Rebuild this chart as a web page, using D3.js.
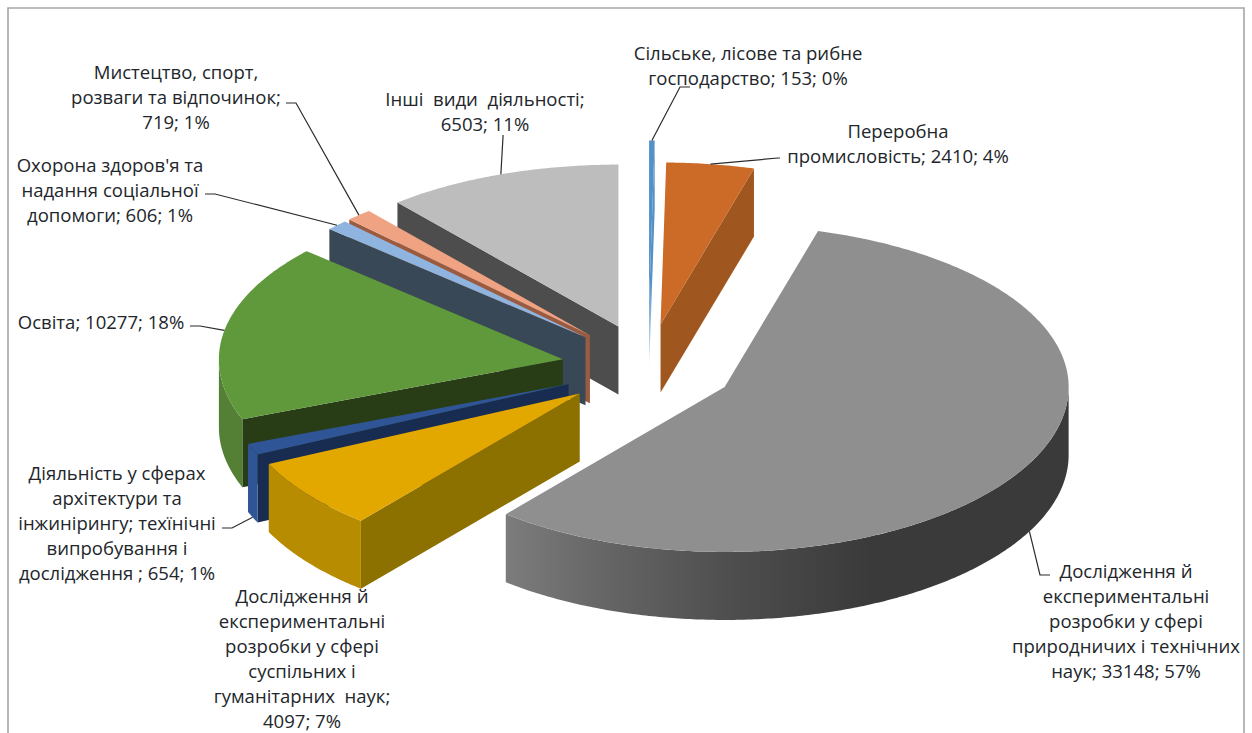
<!DOCTYPE html>
<html lang="uk">
<head>
<meta charset="utf-8">
<title>Виконання наукових досліджень за видами діяльності</title>
<script src="https://cdn.jsdelivr.net/npm/d3@7/dist/d3.min.js"></script>
<style>
  html, body { margin: 0; padding: 0; background: #fff; }
  svg { display: block; }
  text { font-family: "Open Sans", sans-serif; font-size: 17.5px; fill: #22262b; text-anchor: middle; }
</style>
</head>
<body>
<svg id="chart" width="1252" height="733"></svg>
<script>
// Activity categories, clockwise from twelve o'clock
const categories = [
  "Сільське, лісове та рибне господарство",
  "Переробна промисловість",
  "Дослідження й експериментальні розробки у сфері природничих і технічних наук",
  "Дослідження й експериментальні розробки у сфері суспільних і гуманітарних наук",
  "Діяльність у сферах архітектури та інжинірингу; техїнічні випробування і дослідження",
  "Освіта",
  "Охорона здоров'я та надання соціальної допомоги",
  "Мистецтво, спорт, розваги та відпочинок",
  "Інші види діяльності"
];
const values = [153, 2410, 33148, 4097, 654, 10277, 606, 719, 6503];
const percents = [0, 4, 57, 7, 1, 18, 1, 1, 11];

// Wrapped label text for each category
const labelLines = [
  ["Сільське, лісове та рибне", "господарство; 153; 0%"],
  ["Переробна", "промисловість; 2410; 4%"],
  ["Дослідження й", "експериментальні", "розробки у сфері", "природничих і технічних", "наук; 33148; 57%"],
  ["Дослідження й", "експериментальні", "розробки у сфері", "суспільних і", "гуманітарних  наук;", "4097; 7%"],
  ["Діяльність у сферах", "архітектури та", "інжинірингу; техїнічні", "випробування і", "дослідження ; 654; 1%"],
  ["Освіта; 10277; 18%"],
  ["Охорона здоров'я та", "надання соціальної", "допомоги; 606; 1%"],
  ["Мистецтво, спорт,", "розваги та відпочинок;", "719; 1%"],
  ["Інші  види  діяльності;", "6503; 11%"]
];

// Label block anchors: centre x, first-line middle y
const labelX = [748, 898, 1126, 302, 117, 101, 110, 176, 485];
const labelY = [53, 131, 571, 596, 473, 322, 165, 72, 99];
const lineStep = 25;
const textStretch = 1.06;

// Slice colours: top face, cut face, rim
const topColors = ["#5491c8", "#cc6a27", "#8f8f8f", "#e2a800", "#2f5597", "#5f993b", "#8fb4df", "#efa383", "#bdbdbd"];
const cutColors = ["#5491c8", "#a0561f", "#555555", "#8c7000", "#182c52", "#283d15", "#394856", "#9a5b40", "#4d4d4d"];
const rimColors = ["#5491c8", "#a0561f", "url(#rimGrey)", "#b88c00", "#2f5597", "#538035", "#394856", "#9a5b40", "#4d4d4d"];

// How far each slice is pulled from the centre, as a multiple of the common offset
const explode = [1.5, 1, 1, 1, 1, 1, 1, 1, 1];

// Back-to-front paint order
const paintOrder = [8, 7, 6, 0, 1, 5, 4, 3, 2];

// Leader-line elbows: label end, then the bend; null where no leader is drawn
const leaderElbows = [
  [[690, 87], [680, 87]],
  [[780, 158], [778, 158]],
  [[1050, 575], [1040, 575]],
  null,
  [[222, 528], [232, 528]],
  [[190, 326], [200, 326]],
  [[205, 194], [215, 194]],
  [[286, 103], [296, 103]],
  [[503, 135], [503, 137]]
];

const TAU = 2 * Math.PI;
const centre = { x: 648, y: 367 };
const radius = { x: 344, back: 162, front: 165 };
const offset = { x: 86.5, y: 43 };
const depth = 68;

const svg = d3.select("#chart");

// Chart frame, open along the bottom edge
svg.append("path")
  .attr("d", d3.line()([[8, 733], [8, 8], [1244, 8], [1244, 733]]))
  .attr("fill", "none")
  .attr("stroke", "#a6a6a6")
  .attr("stroke-width", 1.6);

const defs = svg.append("defs");
const rimGrey = defs.append("linearGradient")
  .attr("id", "rimGrey")
  .attr("gradientUnits", "userSpaceOnUse")
  .attr("x1", 505).attr("x2", 1068).attr("y1", 0).attr("y2", 0);
[[0, "#7c7c7c"], [0.2, "#636363"], [0.4, "#4e4e4e"], [0.65, "#3a3a3a"], [1, "#3a3a3a"]]
  .forEach(([o, c]) => rimGrey.append("stop").attr("offset", o).attr("stop-color", c));
const sliverFade = defs.append("linearGradient")
  .attr("id", "sliverFade")
  .attr("gradientUnits", "userSpaceOnUse")
  .attr("x1", 0).attr("x2", 0).attr("y1", 141).attr("y2", 372);
[[0, 1], [0.6, 1], [0.85, 0.5], [1, 0]]
  .forEach(([o, a]) => sliverFade.append("stop").attr("offset", o).attr("stop-color", "#5491c8").attr("stop-opacity", a));

const arcs = d3.pie().sort(null).startAngle(0).endAngle(TAU)(values);

// Projection of the tilted pie plane onto the page
const sx = d3.scaleLinear().domain([-1, 1]).range([centre.x - radius.x, centre.x + radius.x]);
const sy = d3.scaleLinear().domain([-1, 0, 1]).range([centre.y - radius.back, centre.y, centre.y + radius.front]);

function apex(i) {
  const mid = (arcs[i].startAngle + arcs[i].endAngle) / 2;
  return [
    Math.sin(mid) * offset.x * explode[i],
    -Math.cos(mid) * offset.y * explode[i]
  ];
}
function rimPoint(i, a, dz = 0) {
  const [dx, dy] = apex(i);
  return [sx(Math.sin(a)) + dx, sy(-Math.cos(a)) + dy + dz];
}
function apexPoint(i, dz = 0) {
  const [dx, dy] = apex(i);
  return [centre.x + dx, centre.y + dy + dz];
}
function sweep(a0, a1) {
  const n = Math.max(2, Math.ceil((a1 - a0) / 0.01));
  return d3.range(n + 1).map(k => a0 + (a1 - a0) * k / n);
}
const line = d3.line();

const slices = svg.append("g");
paintOrder.forEach(i => {
  const { startAngle: a0, endAngle: a1 } = arcs[i];
  const g = slices.append("g");

  // Cut faces that turn towards the viewer
  if (Math.sin(a0) < -1e-6) {
    g.append("path")
      .attr("d", line([apexPoint(i), rimPoint(i, a0), rimPoint(i, a0, depth), apexPoint(i, depth)]) + "Z")
      .attr("fill", cutColors[i]);
  }
  if (Math.sin(a1) > 1e-6) {
    g.append("path")
      .attr("d", line([apexPoint(i), rimPoint(i, a1), rimPoint(i, a1, depth), apexPoint(i, depth)]) + "Z")
      .attr("fill", i === 0 ? "url(#sliverFade)" : cutColors[i]);
  }

  // Outer rim over the front half of the pie
  const r0 = Math.max(a0, Math.PI / 2), r1 = Math.min(a1, 3 * Math.PI / 2);
  if (r1 > r0) {
    const pts = sweep(r0, r1);
    g.append("path")
      .attr("d", line(pts.map(a => rimPoint(i, a)).concat(pts.slice().reverse().map(a => rimPoint(i, a, depth)))) + "Z")
      .attr("fill", rimColors[i]);
  }

  // Top face
  g.append("path")
    .attr("d", line([apexPoint(i)].concat(sweep(a0, a1).map(a => rimPoint(i, a)))) + "Z")
    .attr("fill", i === 0 ? "url(#sliverFade)" : topColors[i]);
});

// Leader lines run from the label to the middle of the slice's outer edge
const leaders = svg.append("g").attr("fill", "none").attr("stroke", "#2b2b2b").attr("stroke-width", 1.2);
leaderElbows.forEach((elbow, i) => {
  if (!elbow) return;
  const a = (arcs[i].startAngle + arcs[i].endAngle) / 2;
  const inFront = Math.cos(a) < 0;
  leaders.append("path").attr("d", line(elbow.concat([rimPoint(i, a, inFront ? depth : 0)])));
});

// Data labels
const labels = svg.append("g");
labelLines.forEach((lines, i) => {
  lines.forEach((t, k) => {
    labels.append("text")
      .attr("transform", `translate(${labelX[i]},${labelY[i] + k * lineStep}) scale(${textStretch},1)`)
      .attr("dominant-baseline", "central")
      .style("white-space", "pre")
      .text(t);
  });
});
</script>
</body>
</html>
